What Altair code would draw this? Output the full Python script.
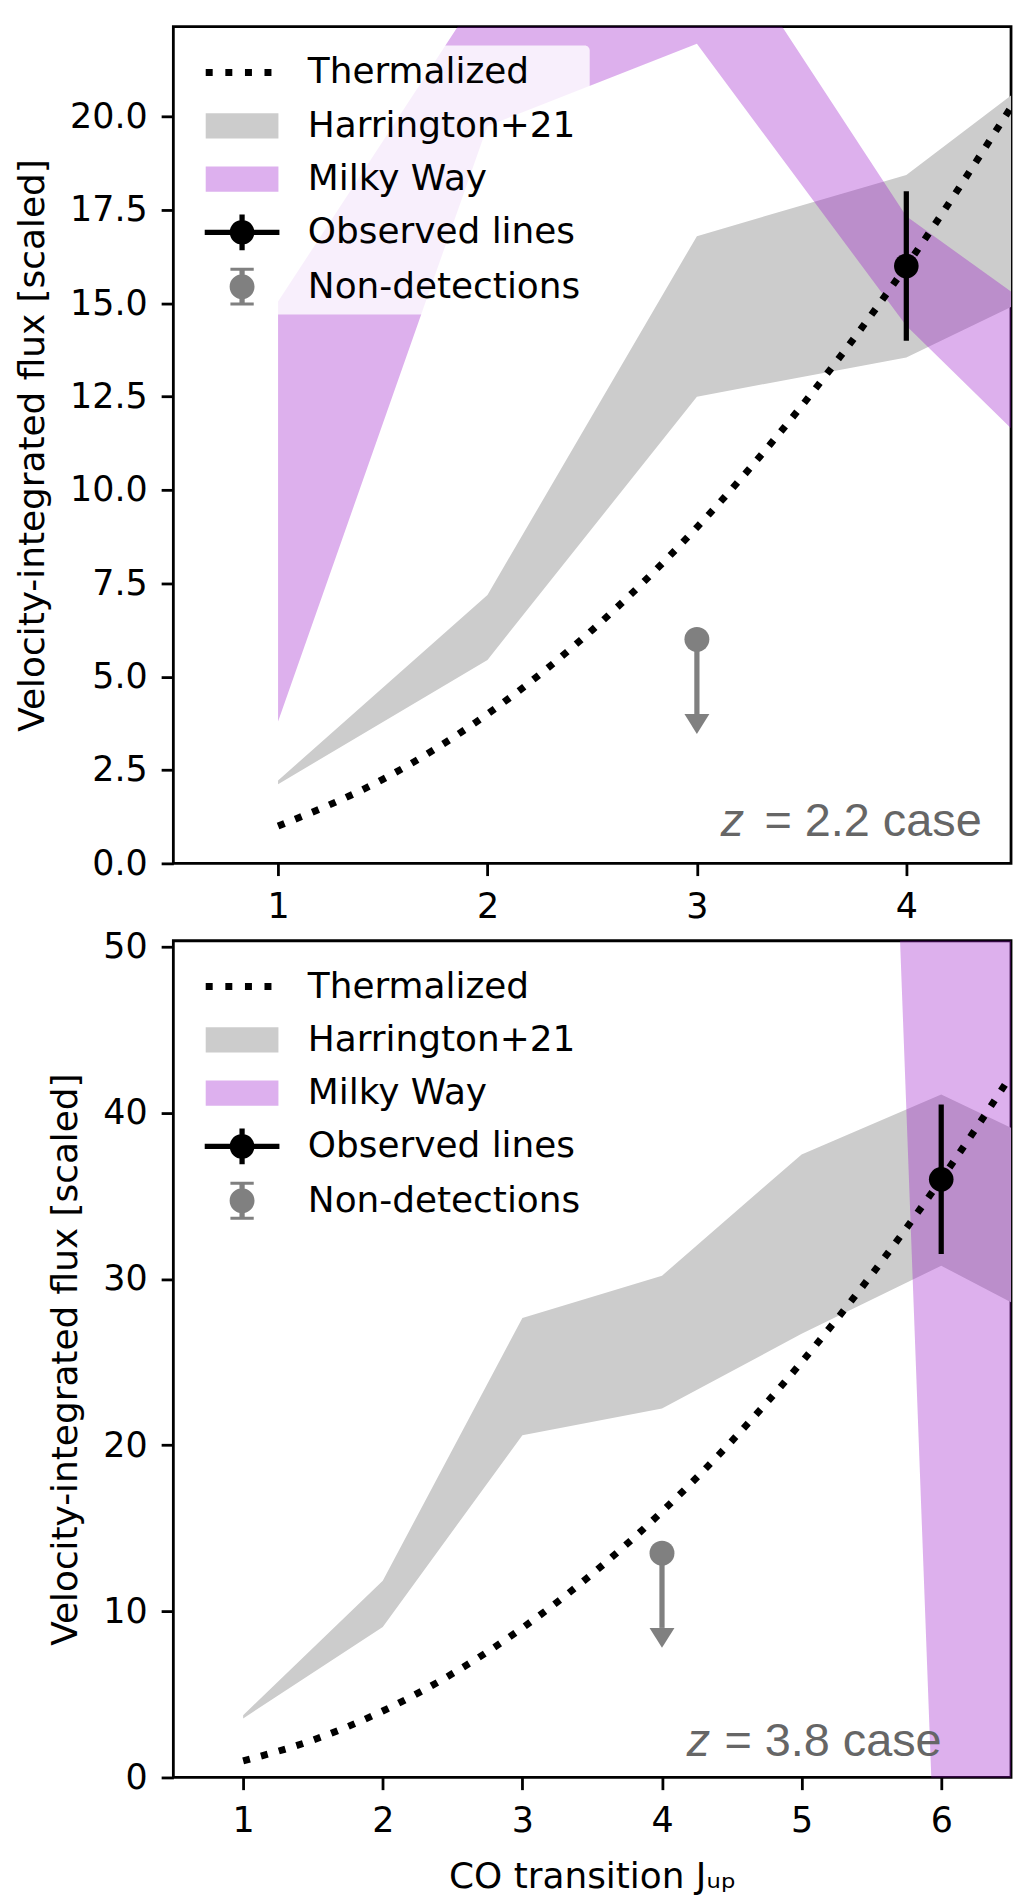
import altair as alt
import pandas as pd

# ---------------- data ----------------
legend_names = ["Thermalized", "Harrington+21", "Milky Way", "Observed lines", "Non-detections"]
legend_colors = ["#000000", "#cccccc", "#ddb0ee", "#000000", "#808080"]

# z = 2.2 case (top panel)
top_J_fine = [1.0, 1.5, 2.0, 2.5, 3.0, 3.5, 4.0, 4.5]
top_thermal = [1.0, 2.25, 4.0, 6.25, 9.0, 12.25, 16.0, 20.25]
top_band_J = [1, 2, 3, 4, 5]
top_h21_low = [2.12, 5.45, 12.50, 13.55, 16.25]
top_h21_high = [2.22, 7.19, 16.80, 18.44, 22.70]
top_mw_J = [1, 2, 3, 4, 5]
top_mw_low = [3.80, 19.75, 21.95, 14.40, 8.90]
top_mw_high = [15.05, 23.63, 25.90, 17.33, 13.30]
top_obs_J = [4]
top_obs_flux = [16.0]
top_obs_err = [2.0]
top_nd_J = [3]
top_nd_flux = [6.0]
top_nd_arrow = [2.0]
top_label_left = "z"
top_label_right = "= 2.2 case"
top_label_J = [3.114, 4.36]
top_label_F = [0.72]

# z = 3.8 case (bottom panel)
bot_J_fine = [1.0, 1.5, 2.0, 2.5, 3.0, 3.5, 4.0, 4.5, 5.0, 5.5, 6.0, 6.5]
bot_thermal = [1.0, 2.25, 4.0, 6.25, 9.0, 12.25, 16.0, 20.25, 25.0, 30.25, 36.0, 42.25]
bot_band_J = [1, 2, 3, 4, 5, 6, 7]
bot_h21_low = [3.55, 9.06, 20.60, 22.20, 26.70, 30.80, 26.40]
bot_h21_high = [3.75, 11.84, 27.65, 30.20, 37.50, 41.10, 37.10]
bot_mw_J = [5, 6, 7]
bot_mw_low = [209.0, -16.0, -40.0]
bot_mw_high = [320.0, 110.0, 90.0]
bot_obs_J = [6]
bot_obs_flux = [36.0]
bot_obs_err = [4.5]
bot_nd_J = [4]
bot_nd_flux = [13.5]
bot_nd_arrow = [4.5]
bot_label_left = "z"
bot_label_right = "= 3.8 case"
bot_label_J = [4.177, 6.003]
bot_label_F = [1.29]

top_x_ticks = [1, 2, 3, 4]
top_y_ticks = [0, 2.5, 5, 7.5, 10, 12.5, 15, 17.5, 20]
bot_x_ticks = [1, 2, 3, 4, 5, 6]
bot_y_ticks = [0, 10, 20, 30, 40, 50]

# ---------------- legend symbols ----------------
SYM = 35.0          # legend symbol box side (px)
H = SYM / 2.0       # px per path unit


def rect(x0, x1, y0, y1):
    return (f"M{x0 / H:.4f},{y0 / H:.4f}H{x1 / H:.4f}V{y1 / H:.4f}H{x0 / H:.4f}Z")


def circle(r):
    u = r / H
    return f"M{u:.4f},0A{u:.4f},{u:.4f} 0 1 1 {-u:.4f},0A{u:.4f},{u:.4f} 0 1 1 {u:.4f},0Z"


dots_path = " ".join(rect(s, s + 7, -3.5, 3.5) for s in (-36.5, -16.8, 2.9, 22.5))
rect_path = rect(-36.5, 36.5, -12.65, 12.65)
obs_path = " ".join([rect(-37.5, 37.5, -2.63, 2.63), rect(-2.63, 2.63, -17.9, 17.9), circle(12.4)])
nd_path = " ".join([rect(-2.63, 2.63, -18, 18), rect(-11.7, 11.7, -19, -16),
                    rect(-11.7, 11.7, 16, 19), circle(12.5)])
legend_shapes = [dots_path, rect_path, rect_path, obs_path, nd_path]
arrow_head = "M-1,0L1,0L0,1.6Z"

PURPLE = "#9912c9"
GRAY = "#808080"


def panel(J_fine, thermal, band_J, h_lo, h_hi, mw_J, mw_lo, mw_hi,
          obs_J, obs_f, obs_e, nd_J, nd_f, nd_a,
          lab_l, lab_r, lab_J, lab_F,
          xmax, ymax, xticks, yticks, yfmt, xtitle):
    xs = alt.Scale(domain=[0.5, xmax], nice=False, zero=False)
    ys = alt.Scale(domain=[0, ymax], nice=False, zero=False)
    xax = alt.Axis(values=xticks, format="d", labelOverlap=False)
    yax = alt.Axis(values=yticks, format=yfmt, labelOverlap=False)
    ytitle = "Velocity-integrated flux [scaled]"

    def X(f):
        return alt.X(f"{f}:Q", scale=xs, axis=xax, title=xtitle)

    def Y(f):
        return alt.Y(f"{f}:Q", scale=ys, axis=yax, title=ytitle)

    h21 = pd.DataFrame({"J": band_J, "lo": h_lo, "hi": h_hi})
    mw = pd.DataFrame({"J": mw_J, "lo": mw_lo, "hi": mw_hi})
    th = pd.DataFrame({"J": J_fine, "F": thermal})
    obs = pd.DataFrame({"J": obs_J, "F": obs_f,
                        "lo": [f - e for f, e in zip(obs_f, obs_e)],
                        "hi": [f + e for f, e in zip(obs_f, obs_e)]})
    nd = pd.DataFrame({"J": nd_J, "F": nd_f,
                       "lo": [f - a for f, a in zip(nd_f, nd_a)]})
    lab1 = pd.DataFrame({"J": [lab_J[0]], "F": lab_F, "t": [lab_l]})
    lab2 = pd.DataFrame({"J": [lab_J[1]], "F": lab_F, "t": [lab_r]})
    leg = pd.DataFrame({"name": legend_names, "J": [None] * 5, "F": [None] * 5})

    l_h21 = alt.Chart(h21).mark_area(color="#cccccc", opacity=1, clip=True).encode(
        x=X("J"), y=Y("lo"), y2=alt.Y2("hi"))
    l_mw = alt.Chart(mw).mark_area(color=PURPLE, opacity=0.333, clip=True).encode(
        x=X("J"), y=Y("lo"), y2=alt.Y2("hi"))
    l_th = alt.Chart(th).mark_line(color="black", strokeWidth=7, strokeDash=[7, 11.55],
                                    strokeCap="butt", interpolate="monotone", clip=True).encode(
        x=X("J"), y=Y("F"))
    l_obs_bar = alt.Chart(obs).mark_rule(color="black", strokeWidth=5.25).encode(
        x=X("J"), y=Y("lo"), y2=alt.Y2("hi"))
    l_obs_pt = alt.Chart(obs).mark_point(filled=True, opacity=1, size=610, color="black",
                                          shape="circle").encode(x=X("J"), y=Y("F"))
    l_nd_bar = alt.Chart(nd).mark_rule(color=GRAY, strokeWidth=5.25).encode(
        x=X("J"), y=Y("F"), y2=alt.Y2("lo"))
    l_nd_pt = alt.Chart(nd).mark_point(filled=True, opacity=1, size=625, color=GRAY,
                                        shape="circle").encode(x=X("J"), y=Y("F"))
    l_nd_head = alt.Chart(nd).mark_point(filled=True, opacity=1, size=625, color=GRAY,
                                          shape=arrow_head).encode(x=X("J"), y=Y("lo"))
    l_lab1 = alt.Chart(lab1).mark_text(align="left", baseline="alphabetic", font="Liberation Sans",
                                       fontSize=47, fontStyle="italic", color="#666666").encode(
        x=X("J"), y=Y("F"), text="t:N")
    l_lab2 = alt.Chart(lab2).mark_text(align="right", baseline="alphabetic", font="Liberation Sans",
                                       fontSize=47, color="#666666").encode(
        x=X("J"), y=Y("F"), text="t:N")

    lg = alt.Legend(title=None, orient="none", legendX=23, legendY=19, padding=9,
                    fillColor="rgba(255,255,255,0.8)", cornerRadius=5,
                    labelFont="DejaVu Sans", labelFontSize=36, labelColor="black",
                    symbolSize=SYM * SYM, symbolOffset=19, labelOffset=48,
                    rowPadding=17.5, symbolStrokeWidth=0,
                    symbolOpacity=1, labelLimit=600)
    l_leg = alt.Chart(leg).mark_point(filled=True, opacity=1, clip=True).encode(
        x=X("J"), y=Y("F"),
        color=alt.Color("name:N", scale=alt.Scale(domain=legend_names, range=legend_colors), legend=lg),
        shape=alt.Shape("name:N", scale=alt.Scale(domain=legend_names, range=legend_shapes), legend=lg),
    )

    return alt.layer(l_h21, l_mw, l_th, l_obs_bar, l_obs_pt, l_nd_bar, l_nd_pt, l_nd_head,
                     l_lab1, l_lab2, l_leg).properties(width=841, height=840)


top = panel(top_J_fine, top_thermal, top_band_J, top_h21_low, top_h21_high,
            top_mw_J, top_mw_low, top_mw_high,
            top_obs_J, top_obs_flux, top_obs_err, top_nd_J, top_nd_flux, top_nd_arrow,
            top_label_left, top_label_right, top_label_J, top_label_F,
            4.5, 22.41, top_x_ticks, top_y_ticks, ".1f", None)

bot = panel(bot_J_fine, bot_thermal, bot_band_J, bot_h21_low, bot_h21_high,
            bot_mw_J, bot_mw_low, bot_mw_high,
            bot_obs_J, bot_obs_flux, bot_obs_err, bot_nd_J, bot_nd_flux, bot_nd_arrow,
            bot_label_left, bot_label_right, bot_label_J, bot_label_F,
            6.5, 50.36, bot_x_ticks, bot_y_ticks, "d", "CO transition J\u1d64\u209a")

chart = (
    alt.vconcat(top, bot, spacing=77.7, bounds="flush")
    .resolve_scale(color="independent", shape="independent")
    .properties(padding={"left": 5, "top": 13, "right": 5, "bottom": 5}, background="white")
    .configure_view(stroke="black", strokeWidth=2.8)
    .configure_axis(labelFont="DejaVu Sans", labelFontSize=35, labelColor="black",
                    tickColor="black", tickWidth=2.8, tickSize=12.25, labelPadding=14,
                    domain=False, grid=False, titleFont="DejaVu Sans", titleFontSize=36,
                    titleFontWeight="normal", titleColor="black")
    .configure_axisX(titlePadding=21)
    .configure_axisY(titlePadding=18)
)

chart.save("out.html", embed_options={"renderer": "svg", "actions": False})
